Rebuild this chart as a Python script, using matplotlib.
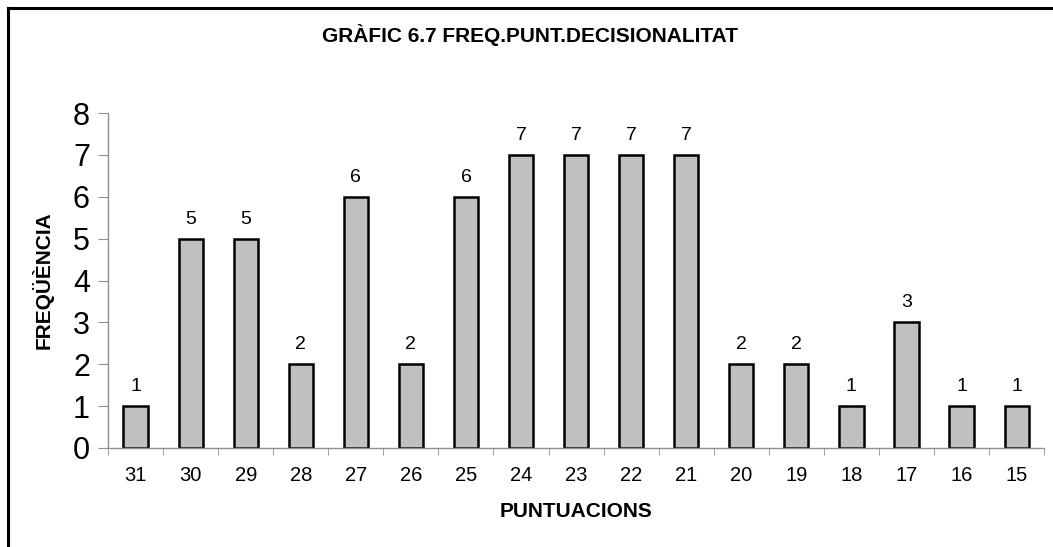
import numpy as np
import matplotlib.pyplot as plt
from matplotlib.lines import Line2D

plt.rcParams['font.family'] = ['Liberation Sans', 'DejaVu Sans']

# Scores (descending) and how often each one occurs
puntuacions = ['31', '30', '29', '28', '27', '26', '25', '24', '23',
               '22', '21', '20', '19', '18', '17', '16', '15']
frequencia = [1, 5, 5, 2, 6, 2, 6, 7, 7, 7, 7, 2, 2, 1, 3, 1, 1]

fig = plt.figure(figsize=(10.53, 5.47), dpi=100)
ax = fig.add_axes([0.1026, 0.181, 0.889, 0.6124])

x = np.arange(len(puntuacions))
bars = ax.bar(x, frequencia, width=0.44, color='#c0c0c0',
              edgecolor='black', linewidth=1.8)

# Value labels above every bar
for xi, v in zip(x, frequencia):
    ax.text(xi, v + 0.26, str(v), ha='center', va='bottom', fontsize=14)

ax.set_xlim(-0.5, len(puntuacions) - 0.5)
ax.set_ylim(0, 8)
ax.set_yticks(range(0, 9))
ax.tick_params(axis='y', labelsize=22, length=7, color='#909090', pad=6)

# Category labels in the middle, small tick marks between categories
ax.set_xticks(x)
ax.set_xticklabels(puntuacions, fontsize=14.5)
ax.tick_params(axis='x', which='major', length=0, pad=13)
ax.set_xticks(np.arange(-0.5, len(puntuacions)), minor=True)
ax.tick_params(axis='x', which='minor', length=5, color='#909090')

for side in ['top', 'right']:
    ax.spines[side].set_visible(False)
for side in ['left', 'bottom']:
    ax.spines[side].set_color('#909090')
    ax.spines[side].set_linewidth(1.0)

ax.set_xlabel('PUNTUACIONS', fontsize=15, fontweight='bold', va='center')
ax.xaxis.set_label_coords(0.5, -0.191)
ax.set_ylabel('FREQÜÈNCIA', fontsize=15, fontweight='bold', va='center')
ax.yaxis.set_label_coords(-0.0694, 0.5)

fig.text(0.503, 0.936, 'GRÀFIC 6.7 FREQ.PUNT.DECISIONALITAT',
         ha='center', va='center', fontsize=15, fontweight='bold')

# Outer frame (left and top edges)
fig.add_artist(Line2D([0.008, 0.008], [0.0, 0.985], color='black',
                      linewidth=2.2, transform=fig.transFigure))
fig.add_artist(Line2D([0.008, 1.0], [0.985, 0.985], color='black',
                      linewidth=2.2, transform=fig.transFigure))

fig.savefig('out.png', dpi=100)
